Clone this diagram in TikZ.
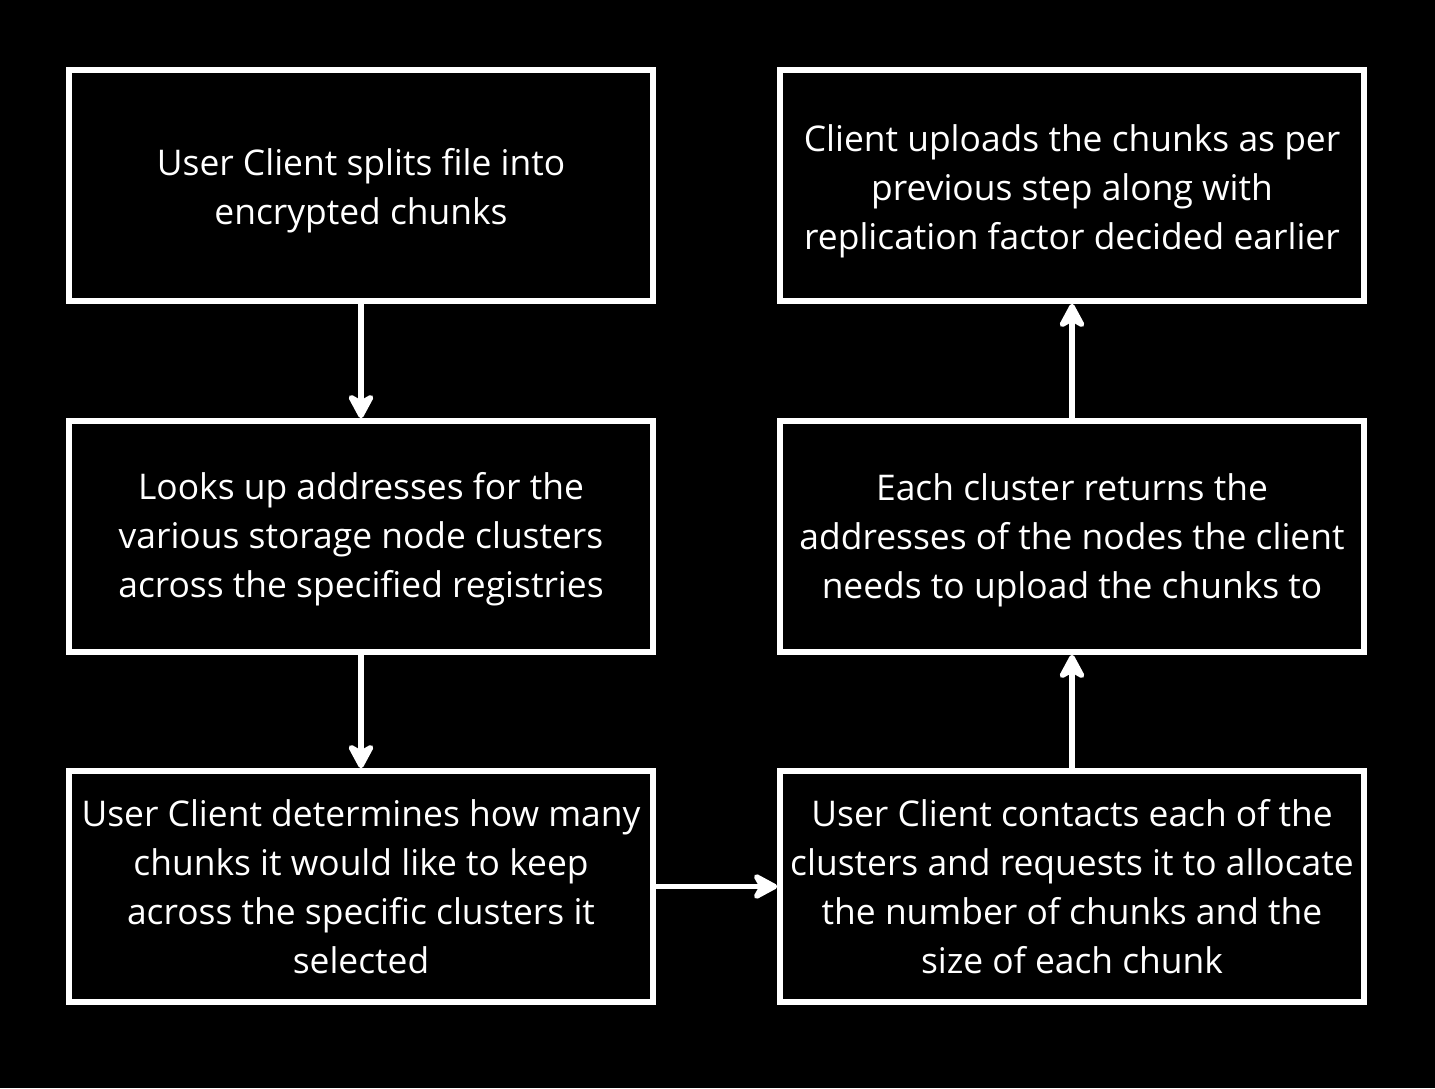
\documentclass[tikz,border=0pt]{standalone}
\usepackage{fontspec}
\setmainfont{Open Sans}
\usetikzlibrary{arrows.meta}
\begin{document}
\begin{tikzpicture}[x=0.5pt,y=-0.5pt,
  stepbox/.style={draw=white,line width=2.8pt,minimum width=292pt,minimum height=115.5pt,inner sep=0pt},
  steptext/.style={text=white,align=center,inner sep=0pt,font=\fontsize{17.7pt}{24.5pt}\selectfont},
  flow/.style={draw=white,line width=2.7pt,-{Stealth[length=15pt,width=16pt,inset=4.5pt,round]}}]
\fill[black] (0,0) rectangle (1435,1088);
\useasboundingbox (0,0) rectangle (1435,1088);
\node[stepbox] (a) at (361,185.5) {};
\node[stepbox] (b) at (361,536.5) {};
\node[stepbox] (c) at (361,886.5) {};
\node[stepbox] (d) at (1072,886.5) {};
\node[stepbox] (e) at (1072,536.5) {};
\node[stepbox] (f) at (1072,185.5) {};
\node[steptext,yshift=-2.5pt] (ta) at (a.center) {User Client splits file into\\encrypted chunks};
\node[steptext,yshift=-1.5pt] (tb) at (b.center) {Looks up addresses for the\\various storage node clusters\\across the specified registries};
\node[steptext,yshift=0pt] (tc) at (c.center) {User Client determines how many\\chunks it would like to keep\\across the specific clusters it\\selected};
\node[steptext,yshift=0pt] (td) at (d.center) {User Client contacts each of the\\clusters and requests it to allocate\\the number of chunks and the\\size of each chunk};
\node[steptext,yshift=-2pt] (te) at (e.center) {Each cluster returns the\\addresses of the nodes the client\\needs to upload the chunks to};
\node[steptext,yshift=-3pt] (tf) at (f.center) {Client uploads the chunks as per\\previous step along with\\replication factor decided earlier};
\draw[flow] (a) -- (b);
\draw[flow] (b) -- (c);
\draw[flow] (c) -- (d);
\draw[flow] (d) -- (e);
\draw[flow] (e) -- (f);
\end{tikzpicture}
\end{document}
